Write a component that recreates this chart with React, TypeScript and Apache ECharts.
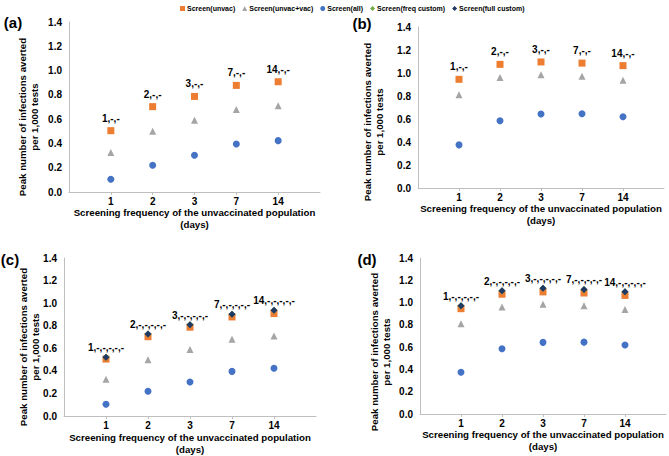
import React, { useEffect, useRef } from "react";
import * as echarts from "echarts";

// ---- data ----
const categories = ["", "1", "2", "3", "7", "14", ""];
const yTickValues = [0, 0.2, 0.4, 0.6, 0.8, 1.0, 1.2, 1.4];

// panels (a) & (c)
const acUnvac = [0.505, 0.703, 0.787, 0.878, 0.908];
const acUnvacVac = [0.326, 0.5, 0.59, 0.68, 0.71];
const acAll = [0.105, 0.22, 0.302, 0.396, 0.423];
const cFreqCustom = [0.522, 0.728, 0.81, 0.903, 0.938];
const cFullCustom = [0.522, 0.728, 0.81, 0.903, 0.938];

// panels (b) & (d)
const bdUnvac = [0.945, 1.075, 1.096, 1.086, 1.064];
const bdUnvacVac = [0.81, 0.96, 0.985, 0.971, 0.938];
const bdAll = [0.375, 0.585, 0.643, 0.645, 0.619];
const dFreqCustom = [0.972, 1.105, 1.128, 1.118, 1.097];
const dFullCustom = [0.972, 1.105, 1.128, 1.118, 1.097];

const labelsShort = ["1,-,-", "2,-,-", "3,-,-", "7,-,-", "14,-,-"];
const labelsLong = ["1,-,-,-,-,-", "2,-,-,-,-,-", "3,-,-,-,-,-", "7,-,-,-,-,-", "14,-,-,-,-,-"];

const seriesNames = [
  "Screen(unvac)",
  "Screen(unvac+vac)",
  "Screen(all)",
  "Screen(freq custom)",
  "Screen(full custom)",
];
const panelLetters = ["(a)", "(b)", "(c)", "(d)"];

const FONT = '"Liberation Sans", Arial, sans-serif';
const COLORS = ["#ED7D31", "#A5A5A5", "#4472C4", "#70AD47", "#1F3864"];
const SYMBOLS = ["rect", "triangle", "circle", "diamond", "diamond"];
const SIZES = [7, 7, 7, 7, 7];

const grids = [
  { left: 69, top: 22, width: 251, height: 170 },
  { left: 418, top: 27, width: 246, height: 161 },
  { left: 64, top: 258, width: 252, height: 164 },
  { left: 420, top: 258, width: 247, height: 156 },
];
const xNameGaps = [14, 12, 11, 13];
const yNamePos = [
  [28, 117],
  [373, 122],
  [29, 347],
  [380, 352],
];
const letterPos = [
  [13, 22],
  [362, 23],
  [10, 259],
  [367, 259],
];

const pad = (arr: number[]) => ["-", ...arr, "-"];

export default function App() {
  const ref = useRef<HTMLDivElement>(null);
  useEffect(() => {
    document.body.style.margin = "0";
    if (!ref.current) return;
    const chart = echarts.init(ref.current, undefined, { renderer: "svg" });

    const panelData: (number[] | null)[][] = [
      [acUnvac, acUnvacVac, acAll, null, null],
      [bdUnvac, bdUnvacVac, bdAll, null, null],
      [acUnvac, acUnvacVac, acAll, cFreqCustom, cFullCustom],
      [bdUnvac, bdUnvacVac, bdAll, dFreqCustom, dFullCustom],
    ];

    const series: any[] = [];
    panelData.forEach((sets, p) => {
      const labelIdx = p < 2 ? 0 : 4;
      const labelTexts = p < 2 ? labelsShort : labelsLong;
      sets.forEach((vals, s) => {
        series.push({
          type: "scatter",
          name: seriesNames[s],
          xAxisIndex: p,
          yAxisIndex: p,
          symbol: SYMBOLS[s],
          symbolSize: SIZES[s],
          itemStyle: { color: COLORS[s], opacity: 1 },
          data: vals ? pad(vals) : [],
          z: 2 + s,
          label:
            s === labelIdx
              ? {
                  show: true,
                  position: "top",
                  distance: p < 2 ? 4 : 1,
                  formatter: (prm: any) => labelTexts[prm.dataIndex - 1] ?? "",
                  fontFamily: FONT,
                  fontWeight: "bold",
                  fontSize: 10,
                  color: "#000",
                  textBorderWidth: 0,
                  textBorderColor: "transparent",
                  textShadowBlur: 0,
                }
              : { show: false },
        });
      });
    });

    const xAxis = grids.map((_, i) => ({
      type: "category",
      gridIndex: i,
      data: categories,
      boundaryGap: false,
      axisLine: { show: true, lineStyle: { color: "#BFBFBF", width: 1 } },
      axisTick: {
        show: true,
        length: 3,
        lineStyle: { color: "#BFBFBF" },
        interval: (idx: number, val: string) => val !== "",
      },
      axisLabel: {
        interval: 0,
        margin: 4,
        fontFamily: FONT,
        fontWeight: "bold",
        fontSize: 10,
        color: "#000",
      },
      splitLine: { show: false },
      name: "Screening frequency of the unvaccinated population\n(days)",
      nameLocation: "middle",
      nameGap: xNameGaps[i],
      nameTextStyle: {
        fontFamily: FONT,
        fontWeight: "bold",
        fontSize: 9.7,
        lineHeight: 12,
        color: "#000",
      },
    }));

    const yAxis = grids.map((_, i) => ({
      type: "value",
      gridIndex: i,
      min: 0,
      max: 1.4,
      interval: 0.2,
      axisLine: { show: true, lineStyle: { color: "#BFBFBF", width: 1 } },
      axisTick: { show: false },
      splitLine: { show: false },
      axisLabel: {
        margin: 7,
        fontFamily: FONT,
        fontWeight: "bold",
        fontSize: 10,
        color: "#000",
        formatter: (v: number) =>
          yTickValues.some((t) => Math.abs(t - v) < 1e-6) ? v.toFixed(1) : "",
      },
    }));

    const graphic: any[] = [];
    yNamePos.forEach(([x, y]) => {
      graphic.push({
        type: "text",
        x,
        y,
        rotation: Math.PI / 2,
        style: {
          text: "Peak number of infections averted\nper 1,000 tests",
          fontFamily: FONT,
          fontWeight: "bold",
          fontSize: 9.7,
          lineHeight: 12,
          fill: "#000",
          align: "center",
          verticalAlign: "middle",
        },
      });
    });
    letterPos.forEach(([x, y], i) => {
      graphic.push({
        type: "text",
        x,
        y,
        style: {
          text: panelLetters[i],
          fontFamily: FONT,
          fontWeight: "bold",
          fontSize: 15,
          fill: "#000",
          align: "center",
          verticalAlign: "middle",
        },
      });
    });

    chart.setOption({
      animation: false,
      backgroundColor: "#fff",
      legend: {
        data: seriesNames,
        top: 0,
        left: 175,
        itemWidth: 5,
        itemHeight: 5,
        itemGap: 7,
        textStyle: {
          fontFamily: FONT,
          fontWeight: "bold",
          fontSize: 7,
          color: "#000",
          padding: [0, 0, 0, -3],
        },
      },
      grid: grids.map((g) => ({ ...g, containLabel: false })),
      xAxis,
      yAxis,
      series,
      graphic,
    });

    return () => chart.dispose();
  }, []);
  return <div ref={ref} style={{ width: 669, height: 456 }} />;
}
